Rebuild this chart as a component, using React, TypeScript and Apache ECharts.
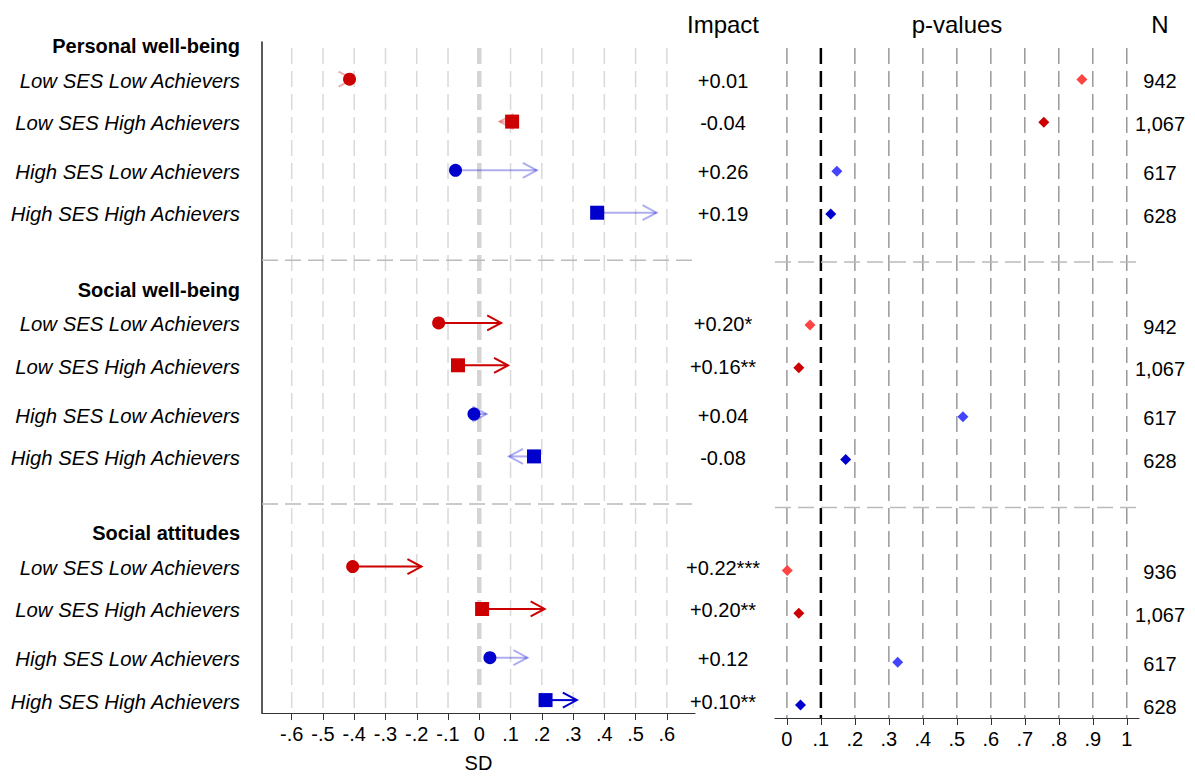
import React, { useEffect, useRef } from 'react';
import * as echarts from 'echarts';

// ---------- data ----------
const sections = ['Personal well-being', 'Social well-being', 'Social attitudes'];
const groups = ['Low SES Low Achievers', 'Low SES High Achievers', 'High SES Low Achievers', 'High SES High Achievers'];
// baseline position (SD) of each group, per section (4 groups each)
const baseline = [-0.415, 0.105, -0.076, 0.377, -0.130, -0.068, -0.017, 0.175, -0.405, 0.009, 0.034, 0.212];
// impact (SD)
const impact = [0.01, -0.04, 0.26, 0.19, 0.20, 0.16, 0.04, -0.08, 0.22, 0.20, 0.12, 0.10];
const stars = ['', '', '', '', '*', '**', '', '', '***', '**', '', '**'];
const pValues = [0.868, 0.756, 0.147, 0.129, 0.068, 0.035, 0.518, 0.173, 0.001, 0.035, 0.326, 0.040];
const sampleN = [942, 1067, 617, 628, 942, 1067, 617, 628, 936, 1067, 617, 628];
const sdTicks = [-0.6, -0.5, -0.4, -0.3, -0.2, -0.1, 0, 0.1, 0.2, 0.3, 0.4, 0.5, 0.6];
const pTicks = [0, 0.1, 0.2, 0.3, 0.4, 0.5, 0.6, 0.7, 0.8, 0.9, 1];
const pThreshold = 0.1;

// ---------- layout ----------
const FONT = '"Liberation Sans", Arial, sans-serif';
const STEP = 245.5;
const HEADER_OFF = 2.5;
const ROW_OFF = [37.5, 80.2, 129.3, 172];
const SEP_OFF = 220;
const Y_MAX = 676;
const RED = '#cc0000';
const BLUE = '#0000cc';
const P_COLORS = ['#ff4444', '#cc0000', '#4444ff', '#0000cc'];
const TXT_PAD = [3, 0, 0, 0];
const isLowSES = (g: number) => g < 2;
const isHighAch = (g: number) => g % 2 === 1;

const rowPos = (i: number) => Math.floor(i / 4) * STEP + ROW_OFF[i % 4];
const headerPos = sections.map((_, s) => s * STEP + HEADER_OFF);
const sepPos = [1, 2].map((s) => s * STEP - (STEP - SEP_OFF));

const rowsIdx = baseline.map((_, i) => i);

type LabelEntry = { pos: number; text: string };
const leftLabels: LabelEntry[] = [
  ...headerPos.map((p, s) => ({ pos: p, text: `{h|${sections[s]}}` })),
  ...rowsIdx.map((i) => ({ pos: rowPos(i), text: `{r|${groups[i % 4]}}` })),
];
const findLabel = (list: LabelEntry[], v: number) => {
  const e = list.find((l) => Math.abs(l.pos - v) < 1e-6);
  return e ? e.text : '';
};
const impactLabels: LabelEntry[] = rowsIdx.map((i) => ({
  pos: rowPos(i),
  text: `{v|${(impact[i] >= 0 ? '+' : '-') + Math.abs(impact[i]).toFixed(2) + stars[i]}}`,
}));
const nLabels: LabelEntry[] = rowsIdx.map((i) => ({
  pos: rowPos(i),
  text: `{v|${sampleN[i].toLocaleString('en-US')}}`,
}));

const fmtSD = (v: number) => (Math.abs(v) < 1e-9 ? '0' : (v < 0 ? '-' : '') + '.' + Math.round(Math.abs(v) * 10));
const fmtP = (v: number) => (Math.abs(v) < 1e-9 ? '0' : Math.abs(v - 1) < 1e-9 ? '1' : '.' + Math.round(v * 10));

const plainRich = { v: { fontSize: 20, fontFamily: FONT, color: '#000', padding: TXT_PAD, align: 'center' } };

export default function App() {
  const ref = useRef<HTMLDivElement>(null);
  useEffect(() => {
    document.body.style.margin = '0';
    if (!ref.current) return;
    const chart = echarts.init(ref.current, undefined, { renderer: 'svg' });

    const yBase = { type: 'value', min: 0, max: Y_MAX, inverse: true, splitLine: { show: false } } as any;

    const option: any = {
      animation: false,
      textStyle: { fontFamily: FONT },
      grid: [
        { left: 262, right: 1195 - 695, top: 42, bottom: 778 - 718 },
        { left: 775, right: 1195 - 1139, top: 42, bottom: 778 - 718 },
      ],
      xAxis: [
        {
          type: 'value', gridIndex: 0, min: -0.695, max: 0.69,
          axisLine: { onZero: false, lineStyle: { color: '#333', width: 1.2 } },
          axisTick: { show: true, length: 7, lineStyle: { color: '#333' }, customValues: sdTicks },
          axisLabel: { customValues: sdTicks, formatter: (v: number) => fmtSD(v), fontSize: 20, color: '#000', margin: 11, fontFamily: FONT },
          splitLine: { show: false },
          name: 'SD', nameLocation: 'middle', nameGap: 40,
          nameTextStyle: { fontSize: 20, color: '#000', fontFamily: FONT },
        },
        {
          type: 'value', gridIndex: 1, min: -0.035, max: 1.036,
          axisLine: { onZero: false, lineStyle: { color: '#333', width: 1.2 } },
          axisTick: { show: true, length: 7, lineStyle: { color: '#333' }, customValues: pTicks },
          axisLabel: { customValues: pTicks, formatter: (v: number) => fmtP(v), fontSize: 20, color: '#000', margin: 11, fontFamily: FONT },
          splitLine: { show: false },
        },
      ],
      yAxis: [
        {
          ...yBase, gridIndex: 0, position: 'left',
          axisLine: { show: true, onZero: false, lineStyle: { color: '#222', width: 1.5 } },
          axisTick: { show: false },
          axisLabel: {
            customValues: leftLabels.map((l) => l.pos),
            formatter: (v: number) => findLabel(leftLabels, v),
            margin: 22, color: '#000',
            rich: {
              h: { fontSize: 20, fontWeight: 'bold', fontFamily: FONT, color: '#000', padding: TXT_PAD },
              r: { fontSize: 20.3, fontStyle: 'italic', fontFamily: FONT, color: '#000', padding: TXT_PAD },
            },
          },
        },
        {
          ...yBase, gridIndex: 0, position: 'right',
          axisLine: { show: false, onZero: false },
          axisTick: { show: false },
          axisLabel: {
            customValues: impactLabels.map((l) => l.pos),
            formatter: (v: number) => findLabel(impactLabels, v),
            margin: 28, align: 'center', color: '#000', rich: plainRich,
          },
        },
        {
          ...yBase, gridIndex: 1, position: 'right',
          axisLine: { show: false, onZero: false },
          axisTick: { show: false },
          axisLabel: {
            customValues: nLabels.map((l) => l.pos),
            formatter: (v: number) => findLabel(nLabels, v),
            margin: 21, align: 'center', color: '#000', rich: plainRich,
          },
        },
      ],
      graphic: [
        { type: 'text', x: 723, y: 24, style: { text: 'Impact', fontSize: 24, fontFamily: FONT, fill: '#000', align: 'center', verticalAlign: 'middle' } },
        { type: 'text', x: 957, y: 24, style: { text: 'p-values', fontSize: 24, fontFamily: FONT, fill: '#000', align: 'center', verticalAlign: 'middle' } },
        { type: 'text', x: 1160, y: 24, style: { text: 'N', fontSize: 24, fontFamily: FONT, fill: '#000', align: 'center', verticalAlign: 'middle' } },
      ],
      series: [
        // SD grid lines
        {
          type: 'custom', xAxisIndex: 0, yAxisIndex: 0, z: 1, silent: true,
          data: sdTicks.map((v) => [v]),
          encode: { x: 0 },
          renderItem: (params: any, api: any) => {
            const v = api.value(0);
            const x = api.coord([v, 0])[0];
            const cs = params.coordSys;
            const zero = Math.abs(v) < 1e-9;
            return {
              type: 'line',
              shape: { x1: x, y1: cs.y, x2: x, y2: cs.y + cs.height },
              style: { stroke: zero ? '#d4d4d4' : '#d9d9d9', lineWidth: zero ? 4.5 : 1.5, lineDash: [16, 7], lineDashOffset: 17 },
            };
          },
        },
        // p-value grid lines
        {
          type: 'custom', xAxisIndex: 1, yAxisIndex: 2, z: 1, silent: true,
          data: pTicks.map((v) => [v]),
          encode: { x: 0 },
          renderItem: (params: any, api: any) => {
            const v = api.value(0);
            const x = api.coord([v, 0])[0];
            const cs = params.coordSys;
            const thr = Math.abs(v - pThreshold) < 1e-9;
            return {
              type: 'line',
              shape: { x1: x, y1: cs.y, x2: x, y2: cs.y + cs.height },
              style: { stroke: thr ? '#000' : '#999', lineWidth: thr ? 2.5 : 1.5, lineDash: [16, 7], lineDashOffset: 17 },
            };
          },
        },
        // section separators (both panels)
        ...[0, 1].map((g) => ({
          type: 'custom', xAxisIndex: g, yAxisIndex: g === 0 ? 0 : 2, z: 2, silent: true,
          data: sepPos.map((p) => [0, p]),
          encode: { y: 1 },
          renderItem: (params: any, api: any) => {
            const y = api.coord([0, api.value(1)])[1];
            const cs = params.coordSys;
            return {
              type: 'line',
              shape: { x1: cs.x, y1: y, x2: cs.x + cs.width, y2: y },
              style: { stroke: '#bbbbbb', lineWidth: 1.5, lineDash: [16, 7] },
            };
          },
        })),
        // arrows
        {
          type: 'custom', xAxisIndex: 0, yAxisIndex: 0, z: 3, silent: true,
          data: rowsIdx.map((i) => [baseline[i], baseline[i] + impact[i], rowPos(i), i]),
          encode: { x: [0, 1], y: 2 },
          renderItem: (params: any, api: any) => {
            const i = api.value(3);
            const g = i % 4;
            const s = api.coord([api.value(0), api.value(2)]);
            const e = api.coord([api.value(1), api.value(2)]);
            const dir = e[0] >= s[0] ? 1 : -1;
            const sig = stars[i] !== '';
            const base = isLowSES(g) ? [204, 0, 0] : [0, 0, 204];
            const color = `rgba(${base[0]},${base[1]},${base[2]},${sig ? 1 : 0.32})`;
            return {
              type: 'group',
              children: [
                { type: 'line', shape: { x1: s[0], y1: s[1], x2: e[0], y2: e[1] }, style: { stroke: color, lineWidth: 2 } },
                {
                  type: 'polyline',
                  shape: { points: [[e[0] - dir * 14, e[1] - 7.5], [e[0], e[1]], [e[0] - dir * 14, e[1] + 7.5]] },
                  style: { stroke: color, lineWidth: 2, fill: 'none' },
                },
              ],
            };
          },
        },
        // baseline markers
        {
          type: 'scatter', xAxisIndex: 0, yAxisIndex: 0, z: 4, silent: true,
          data: rowsIdx.map((i) => {
            const g = i % 4;
            return {
              value: [baseline[i], rowPos(i)],
              symbol: isHighAch(g) ? 'rect' : 'circle',
              symbolSize: isHighAch(g) ? 14 : 13,
              itemStyle: { color: isLowSES(g) ? RED : BLUE, opacity: 1 },
            };
          }),
        },
        // p-values
        {
          type: 'scatter', xAxisIndex: 1, yAxisIndex: 2, z: 4, silent: true,
          symbol: 'diamond', symbolSize: 11,
          data: rowsIdx.map((i) => ({
            value: [pValues[i], rowPos(i)],
            itemStyle: { color: P_COLORS[i % 4], opacity: 1 },
          })),
        },
      ],
    };
    chart.setOption(option);
    return () => chart.dispose();
  }, []);
  return <div ref={ref} style={{ width: 1195, height: 778 }} />;
}
